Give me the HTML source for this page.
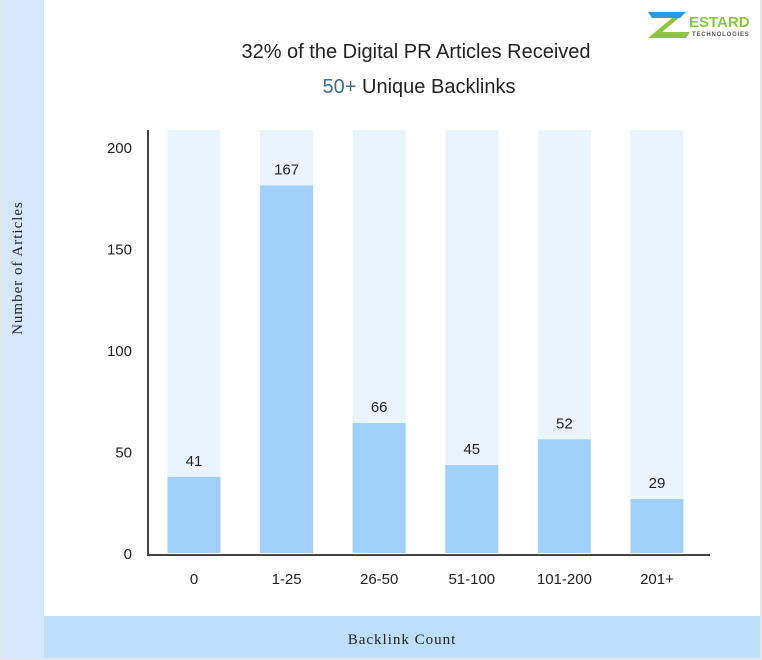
<!DOCTYPE html>
<html><head><meta charset="utf-8"><style>
body{margin:0;width:762px;height:660px;background:#e4e4e4;overflow:hidden;font-family:"Liberation Sans",sans-serif}
#frame{position:absolute;left:2px;top:0;width:758px;height:658px;background:#fff}
</style></head><body>
<div id="frame"></div>
<svg id="chart" width="762" height="660" style="position:absolute;left:0;top:0">
<rect x="2" y="0" width="42" height="658" fill="#d4e7fb"/>
<rect x="44" y="616" width="716" height="42" fill="#bddffa"/>
<text x="22" y="268" transform="rotate(-90 22 268)" text-anchor="middle" font-family="Liberation Serif,serif" font-size="15" fill="#222" letter-spacing="1">Number of Articles</text>
<text x="402" y="644" text-anchor="middle" font-family="Liberation Serif,serif" font-size="15" fill="#222" letter-spacing="1">Backlink Count</text>
<text x="416" y="58" text-anchor="middle" font-size="20" fill="#222">32% of the Digital PR Articles Received</text>
<text x="419" y="93" text-anchor="middle" font-size="20" fill="#222"><tspan fill="#3d6f8f">50+</tspan> Unique Backlinks</text>
<g>
<polygon points="648,12 686,12 662,32 690,32 686,38 648,38 672,18 652,18" fill="#8cc63f"/>
<polygon points="648,12 686,12 680,18 652,18" fill="#2a9be0"/>
<text x="689" y="27" font-size="15" font-weight="bold" fill="#8cc63f">ESTARD</text>
<text x="692" y="36" font-size="6" font-weight="bold" fill="#555" letter-spacing="0.8">TECHNOLOGIES</text>
</g>
<g id="plot"></g>
</svg>
<script>
const categories=["0","1-25","26-50","51-100","101-200","201+"];
const values=[37.5,181,64,43.3,56,26.6];
const labels=[41,167,66,45,52,29];
const yTicks=[0,50,100,150,200];
const ns="http://www.w3.org/2000/svg";
const g=document.getElementById('plot');
const x0=148,x1=710,yBase=553,yTop=130,pxPer=2.03;
const y=v=>yBase-v*pxPer;
const xc=i=>194+i*92.6;
const bw=53;
function mk(t,a){const e=document.createElementNS(ns,t);for(const k in a)e.setAttribute(k,a[k]);g.appendChild(e);return e;}
yTicks.forEach(t=>{
 const e=mk('text',{x:132,y:y(t)+6,'text-anchor':'end','font-size':15,fill:'#222'});
 e.textContent=t;
 
 
});
categories.forEach((c,i)=>{
 const bg=mk('rect',{x:xc(i)-bw/2,y:yTop,width:bw,height:yBase-yTop,fill:'#eaf4fe'});
 
 
 const b=mk('rect',{x:xc(i)-bw/2,y:y(values[i]),width:bw,height:values[i]*pxPer,fill:'#a0d0fa'});
 
 
 const l=mk('text',{x:xc(i),y:y(values[i])-11,'text-anchor':'middle','font-size':15,fill:'#222'});
 l.textContent=labels[i];
 
 
 const t=mk('text',{x:xc(i),y:584,'text-anchor':'middle','font-size':15,fill:'#222'});
 t.textContent=c;
 
 
});
const ax=mk('path',{d:`M${x0} ${yTop}V${yBase+2}H${x1}`,stroke:'#444','stroke-width':2,fill:'none'});


</script>
</body></html>
